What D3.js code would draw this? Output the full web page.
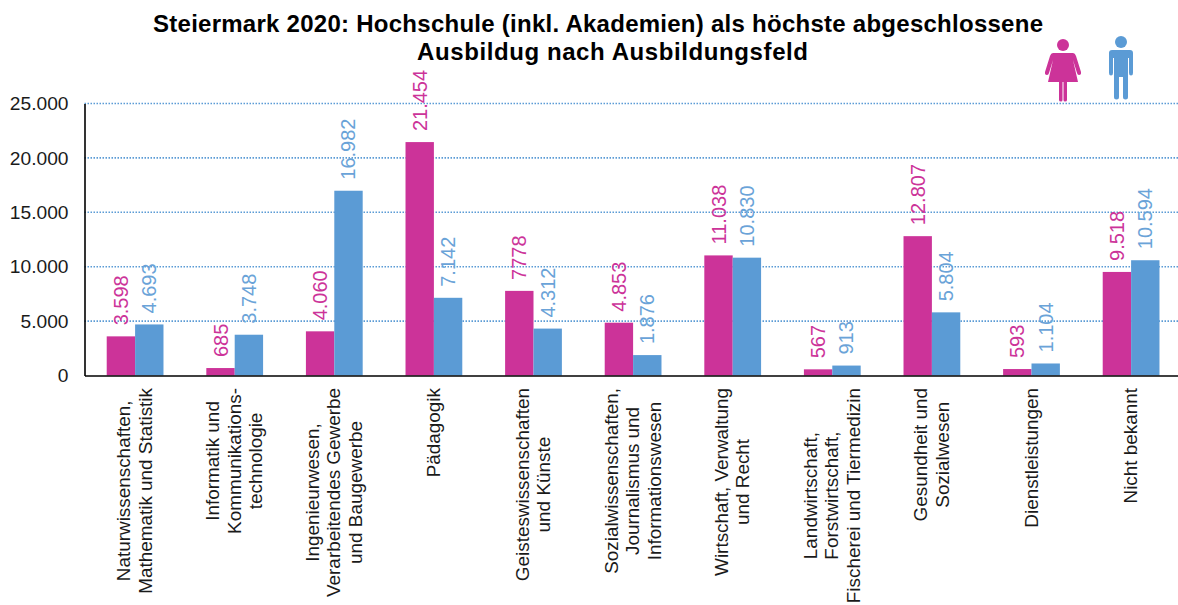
<!DOCTYPE html>
<html><head><meta charset="utf-8">
<script src="https://cdn.jsdelivr.net/npm/d3@7"></script>
<style>html,body{margin:0;padding:0;background:#fff}svg{display:block}text{font-family:"Liberation Sans",Arial,sans-serif}</style>
</head><body><svg id="c" width="1178" height="605"></svg>
<script>
const titleLines=["Steiermark 2020: Hochschule (inkl. Akademien) als höchste abgeschlossene","Ausbildug nach Ausbildungsfeld"];
const categories=[
["Naturwissenschaften,","Mathematik und Statistik"],
["Informatik und","Kommunikations-","technologie"],
["Ingenieurwesen,","Verarbeitendes Gewerbe","und Baugewerbe"],
["Pädagogik"],
["Geisteswissenschaften","und Künste"],
["Sozialwissenschaften,","Journalismus und","Informationswesen"],
["Wirtschaft, Verwaltung","und Recht"],
["Landwirtschaft,","Forstwirtschaft,","Fischerei und Tiermedizin"],
["Gesundheit und","Sozialwesen"],
["Dienstleistungen"],
["Nicht bekannt"]];
const women=[3598,685,4060,21454,7778,4853,11038,567,12807,593,9518];
const men=[4693,3748,16982,7142,4312,1876,10830,913,5804,1104,10594];
const womenLabels=["3.598","685","4.060","21.454","7778","4.853","11.038","567","12.807","593","9.518"];
const menLabels=["4.693","3.748","16.982","7.142","4.312","1.876","10.830","913","5.804","1.104","10.594"];
const ticks=[0,5000,10000,15000,20000,25000];
const PINK="#cc3399",BLUE="#5b9bd5";
const svg=d3.select("#c");
const x=d3.scaleBand().domain(d3.range(categories.length)).range([85.3,1180.9]).paddingInner(0.43).paddingOuter(0.215);
const y=d3.scaleLinear().domain([0,25000]).range([375.5,103.5]);
const bw=x.bandwidth()/2;
const fmt=v=>d3.format(",")(v).replace(/,/g,".");

svg.append("g").selectAll("line").data(ticks.filter(t=>t>0)).join("line")
 .attr("x1",84.5).attr("x2",1178).attr("y1",d=>y(d)).attr("y2",d=>y(d))
 .attr("stroke",BLUE).attr("stroke-width",1.6).attr("stroke-dasharray","1.5 1.5");
const drawBars=(vals,off,col)=>svg.append("g").selectAll("rect").data(vals).join("rect")
 .attr("x",(d,i)=>x(i)+off).attr("width",bw).attr("y",d=>y(d)).attr("height",d=>y(0)-y(d)).attr("fill",col);
drawBars(women,0,PINK);drawBars(men,bw,BLUE);
const ya=d3.axisLeft(y).tickValues(ticks).tickSize(0).tickPadding(16).tickFormat(fmt);
const gy=svg.append("g").attr("transform","translate(84.5,0)").call(ya);
gy.select(".domain").attr("stroke","#000").attr("stroke-width",1.6);
gy.selectAll("text").attr("font-size",19.2).attr("fill","#1a1a1a");
const xl=d3.axisBottom(d3.scaleLinear().domain([84.5,1178]).range([84.5,1178])).tickValues([]).tickSizeOuter(0);
const gx=svg.append("g").attr("transform","translate(0,375.5)").call(xl);
gx.select(".domain").attr("stroke","#000").attr("stroke-width",1.6);
const drawLabels=(vals,labs,off,col)=>svg.append("g").selectAll("text").data(vals).join("text")
 .attr("transform",(d,i)=>`translate(${x(i)+off+bw/2+7},${y(d)-11}) rotate(-90)`)
 .attr("font-size",20).attr("fill",col).text((d,i)=>labs[i]);
drawLabels(women,womenLabels,0,PINK);drawLabels(men,menLabels,bw,"#6aa3d8");
const cg=svg.append("g").selectAll("g").data(categories).join("g")
 .attr("transform",(d,i)=>`translate(${x(i)+bw},388) rotate(-90)`);
cg.selectAll("text").data(d=>d.map((t,j)=>({t,j,n:d.length}))).join("text")
 .attr("text-anchor","middle").attr("font-size",18.9).attr("fill","#1a1a1a")
 .attr("x",0).attr("y",d=>(d.j-(d.n-1)/2)*21.5+6).text(d=>d.t);
cg.each(function(d){
 const w=d3.max(d3.select(this).selectAll("text").nodes(),n=>n.getComputedTextLength());
 d3.select(this).selectAll("text").attr("x",-w/2);
});
svg.append("g").selectAll("text").data(titleLines).join("text")
 .attr("x",(d,i)=>[153,417][i]).attr("y",(d,i)=>32+i*28)
 .attr("textLength",(d,i)=>[890,391][i]).attr("lengthAdjust","spacing")
 .attr("font-size",24).attr("font-weight","bold").attr("fill","#000").text(d=>d);
const woman=svg.append("g").attr("transform","translate(1063,0)").attr("fill",PINK);
woman.append("circle").attr("cy",45).attr("r",6);
woman.append("path").attr("d","M-10,53H10Q12,53 13,56L18,72Q18.5,75 16,75Q14.5,75 14,73L10,60L15,82H4V100Q4,101.5 2,101.5Q0.5,101.5 0.5,100V82H-0.5V100Q-0.5,101.5 -2,101.5Q-4,101.5 -4,100V82H-15L-10,60L-14,73Q-14.5,75 -16,75Q-18.5,75 -18,72L-13,56Q-12,53 -10,53Z");
const man=svg.append("g").attr("transform","translate(1121,0)").attr("fill",BLUE);
man.append("circle").attr("cy",42).attr("r",6);
man.append("path").attr("d","M-9,50H9Q12,50 12,53V73Q12,75.5 10,75.5Q8,75.5 8,73V58H7V97Q7,99.5 4.5,99.5Q2,99.5 2,97V77H-2V97Q-2,99.5 -4.5,99.5Q-7,99.5 -7,97V58H-8V73Q-8,75.5 -10,75.5Q-12,75.5 -12,73V53Q-12,50 -9,50Z");
</script></body></html>
